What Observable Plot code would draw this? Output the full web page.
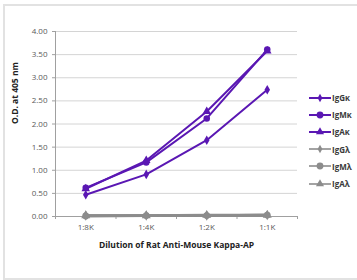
<!DOCTYPE html>
<html><head><meta charset="utf-8">
<script src="https://cdn.jsdelivr.net/npm/d3@7"></script>
<script src="https://cdn.jsdelivr.net/npm/@observablehq/plot@0.6"></script>
<style>
html,body{margin:0;padding:0;background:#fff;}
#wrap{position:relative;width:357px;height:280px;overflow:hidden;font-family:"Open Sans",sans-serif;}
#frame{position:absolute;left:3px;top:4px;width:400px;height:272px;border:2px solid #e2e2e2;border-right:none;}
#chart{position:absolute;left:0;top:0;}
#legend{position:absolute;left:309px;top:89px;}
.row{height:17.2px;display:flex;align-items:center;font-size:8px;font-weight:bold;color:#3a3a3a;}
.row svg{margin-right:1px;}
</style>
</head><body>
<div id="wrap"><div id="frame"></div><div id="chart"></div><div id="legend"></div></div>
<script>
const dilutions = ["1:8K","1:4K","1:2K","1:1K"];
const seriesNames = ["IgGκ","IgMκ","IgAκ","IgGλ","IgMλ","IgAλ"];
const IgGk = [0.47, 0.91, 1.65, 2.74];
const IgMk = [0.62, 1.17, 2.12, 3.61];
const IgAk = [0.60, 1.21, 2.27, 3.58];
const IgGl = [0.02, 0.02, 0.02, 0.03];
const IgMl = [0.01, 0.02, 0.02, 0.03];
const IgAl = [0.02, 0.02, 0.03, 0.03];
const seriesValues = [IgGk, IgMk, IgAk, IgGl, IgMl, IgAl];
const seriesSymbols = ["diamond", "circle", "triangle", "diamond", "circle", "triangle"];
const seriesColors = ["#5a17b3","#5a17b3","#5a17b3","#8c8c8c","#8c8c8c","#8c8c8c"];
const yTicks = [0,0.5,1,1.5,2,2.5,3,3.5,4];
const xTitle = "Dilution of Rat Anti-Mouse Kappa-AP";
const yTitle = "O.D. at 405 nm";

const data = [];
seriesNames.forEach((s, i) => seriesValues[i].forEach((v, j) => data.push({series: s, xi: j, v, sym: seriesSymbols[i], color: seriesColors[i], gray: i >= 3})));
const boundaries = d3.range(dilutions.length + 1).map(i => i - 0.5);
const symSize = {diamond: 3, circle: 3.8, triangle: 3.6};

const plot = Plot.plot({
  width: 357, height: 280,
  marginLeft: 55, marginRight: 60, marginTop: 31, marginBottom: 64,
  style: {fontFamily: "'Open Sans', sans-serif", fontSize: "8px", color: "#595959", background: "transparent"},
  x: {type: "linear", domain: [-0.5, dilutions.length - 0.5]},
  y: {domain: [0, 4]},
  marks: [
    Plot.gridY(yTicks.filter(t => t > 0), {stroke: "#d4d4d4", strokeOpacity: 1, strokeWidth: 1}),
    Plot.axisY(yTicks, {tickSize: 3, tickPadding: 5, tickFormat: d3.format(".2f"), label: null, stroke: "#a0a0a0", fill: "#595959"}),
    Plot.ruleX([-0.5], {stroke: "#a0a0a0"}),
    Plot.ruleY([0], {stroke: "#a0a0a0"}),
    Plot.axisX(boundaries, {tickSize: 3, tickFormat: () => "", label: null, stroke: "#a0a0a0"}),
    Plot.axisX(d3.range(dilutions.length), {tickSize: 0, tickPadding: 8, tickFormat: i => dilutions[i], label: null, fill: "#595959"}),
    Plot.line(data.filter(d => d.gray), {x: "xi", y: "v", z: "series", stroke: "color", strokeWidth: 2.8}),
    Plot.line(data.filter(d => !d.gray), {x: "xi", y: "v", z: "series", stroke: "color", strokeWidth: 2}),
    Plot.dot(data.filter(d => d.gray), {x: "xi", y: "v", symbol: "sym", r: d => symSize[d.sym] + 0.4, fill: "color", stroke: "none"}),
    Plot.dot(data.filter(d => !d.gray), {x: "xi", y: "v", symbol: "sym", r: d => symSize[d.sym], fill: "color", stroke: "none"}),
    Plot.text([xTitle], {frameAnchor: "bottom", dy: 29, fontWeight: "bold", fontSize: 8.5, fill: "#222", lineAnchor: "middle"}),
    Plot.text([yTitle], {frameAnchor: "left", dx: -40, rotate: -90, fontWeight: "bold", fontSize: 8.5, fill: "#222", lineAnchor: "middle"})
  ],
  symbol: {type: "identity"}
});
document.getElementById("chart").appendChild(plot);

const symMap = {diamond: d3.symbolDiamond, circle: d3.symbolCircle, triangle: d3.symbolTriangle};
const legend = document.getElementById("legend");
seriesNames.forEach((s, i) => {
  const row = document.createElement("div");
  row.className = "row";
  const sym = seriesSymbols[i];
  const area = Math.PI * symSize[sym] * symSize[sym] * (sym === "circle" ? 0.8 : 0.7);
  const path = d3.symbol(symMap[sym], area)();
  row.innerHTML = `<svg width="22" height="10"><line x1="0" x2="22" y1="5" y2="5" stroke="${seriesColors[i]}" stroke-width="${i<3?2:1.6}"/><path transform="translate(11,5)" d="${path}" fill="${seriesColors[i]}"/></svg><span>${s}</span>`;
  legend.appendChild(row);
});
</script>
</body></html>
